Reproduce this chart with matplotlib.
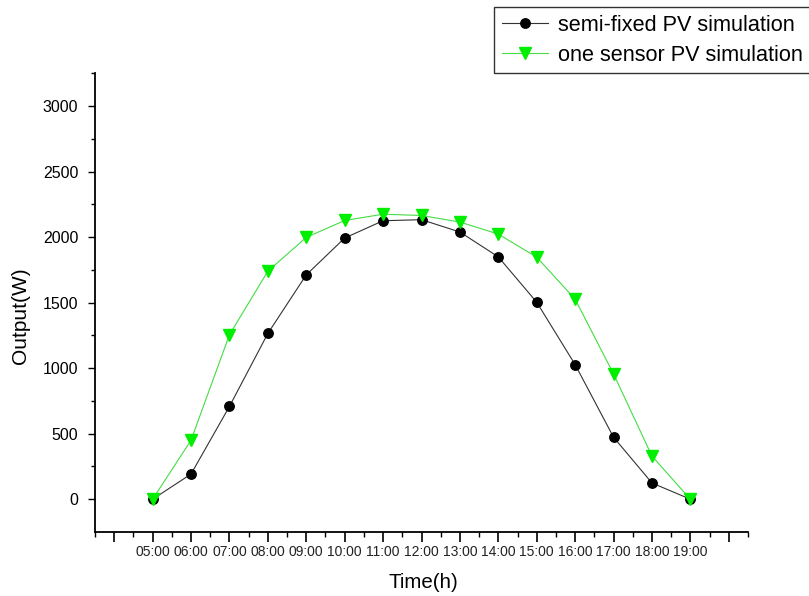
import matplotlib
matplotlib.use("Agg")
import matplotlib.pyplot as plt
from matplotlib.ticker import FixedLocator, FuncFormatter
import warnings
warnings.filterwarnings("ignore")

hours = [5, 6, 7, 8, 9, 10, 11, 12, 13, 14, 15, 16, 17, 18, 19]
hour_labels = ["05:00", "06:00", "07:00", "08:00", "09:00", "10:00", "11:00", "12:00",
               "13:00", "14:00", "15:00", "16:00", "17:00", "18:00", "19:00"]
semi_fixed = [0, 192, 708, 1265, 1712, 1993, 2125, 2133, 2039, 1849, 1503, 1027, 473, 124, 0]
one_sensor = [0, 450, 1255, 1740, 1998, 2127, 2175, 2165, 2115, 2023, 1847, 1526, 956, 329, 0]
series_names = ["semi-fixed PV simulation", "one sensor PV simulation"]

plt.rcParams['font.family'] = ['Liberation Sans', 'DejaVu Sans']

fig = plt.figure(figsize=(8.09, 5.96), dpi=100)
ax = fig.add_axes([95/809, 1-532/596, (748-95)/809, (532-73.3)/596])

ax.plot(hours, semi_fixed, color='#333333', lw=0.8, marker='o', ms=6.8,
        mfc='black', mec='black', label=series_names[0], zorder=3)
ax.plot(hours, one_sensor, color='#44dd44', lw=0.8, marker='v', ms=9.2,
        mfc='#00ee00', mec='#00ee00', label=series_names[1], zorder=4)

ax.set_xlim(3.5, 20.5)
ax.set_ylim(-250, 3250)

for s in ['top', 'right']:
    ax.spines[s].set_visible(False)
for s in ['left', 'bottom']:
    ax.spines[s].set_linewidth(1.3)

lab = dict(zip(hours, hour_labels))
ax.xaxis.set_major_locator(FixedLocator(list(range(4, 21))))
ax.xaxis.set_major_formatter(FuncFormatter(lambda v, p: lab.get(int(round(v)), "")))
ax.xaxis.set_minor_locator(FixedLocator([h + 0.5 for h in range(3, 21)]))
ax.yaxis.set_major_locator(FixedLocator([0, 500, 1000, 1500, 2000, 2500, 3000]))
ax.yaxis.set_minor_locator(FixedLocator([250, 750, 1250, 1750, 2250, 2750, 3250]))

ax.tick_params(axis='x', which='major', direction='out', length=7, width=1.2, pad=2.5)
ax.tick_params(axis='x', which='minor', direction='out', length=3.5, width=1.0)
ax.tick_params(axis='y', which='major', direction='out', length=5, width=1.0, pad=7, labelsize=11.5)
ax.tick_params(axis='y', which='minor', direction='out', length=3, width=1.0)
for t in ax.get_xticklabels():
    t.set_fontfamily(['Liberation Sans Narrow', 'Liberation Sans'])
    t.set_fontsize(10)
    t.set_color('#222222')

fig.text(423.5/809, 1-582/596, "Time(h)", fontsize=14.8, ha='center', va='center')
fig.text(21/809, 1-316/596, "Output(W)", fontsize=15, ha='center', va='center', rotation=90)

leg = fig.legend(loc='upper left', bbox_to_anchor=(494/809, 1-7/596),
                 bbox_transform=fig.transFigure, fontsize=15.6, frameon=True,
                 fancybox=False, shadow=False, handlelength=2.15, handletextpad=0.45,
                 borderpad=0.35, labelspacing=0.42, borderaxespad=0)
leg.get_frame().set_edgecolor('black')
leg.get_frame().set_linewidth(1.0)

fig.savefig("out.png", dpi=100)
